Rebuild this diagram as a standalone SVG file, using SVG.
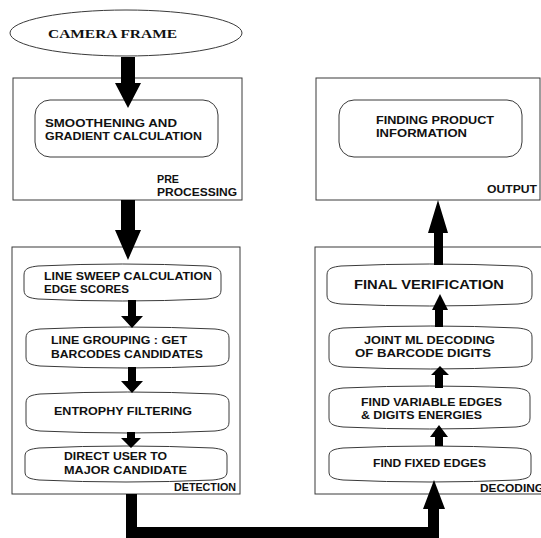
<svg xmlns="http://www.w3.org/2000/svg" width="541" height="538" viewBox="0 0 541 538">
<style>
.bg{fill:#ffffff}
.frame{fill:#ffffff;stroke:#3a3a3a;stroke-width:1}
.step{fill:#ffffff;stroke:#3a3a3a;stroke-width:1}
.arrow{fill:#000000;stroke:none}
.t{font-family:"Liberation Sans",Arial,sans-serif;font-weight:bold;font-size:11px;fill:#111111}
.big{font-size:13px}
.serif{font-family:"Liberation Serif","Times New Roman",serif;font-weight:bold;font-size:12px;fill:#111111}
</style>
<rect class="bg" x="0" y="0" width="541" height="538"/>

<g id="camera-frame">
<ellipse class="frame" cx="126" cy="33" rx="116" ry="23"/>
<text class="serif" x="48" y="38" textLength="129" lengthAdjust="spacingAndGlyphs">CAMERA FRAME</text>
</g>

<g id="pre-processing">
<rect class="frame" x="13" y="78" width="229" height="122"/>
<text class="t" x="157" y="183" textLength="22" lengthAdjust="spacingAndGlyphs">PRE</text>
<text class="t" x="157" y="196" textLength="80" lengthAdjust="spacingAndGlyphs">PROCESSING</text>
</g>
<g id="smoothening">
<rect class="step" x="35" y="100" width="183" height="57" rx="15" ry="15"/>
<text class="t" x="45" y="127" textLength="132" lengthAdjust="spacingAndGlyphs">SMOOTHENING AND</text>
<text class="t" x="45" y="140" textLength="157" lengthAdjust="spacingAndGlyphs">GRADIENT CALCULATION</text>
</g>

<g id="detection">
<rect class="frame" x="12" y="247" width="228" height="247"/>
<text class="t" x="174" y="491" textLength="62" lengthAdjust="spacingAndGlyphs">DETECTION</text>
</g>
<g id="line-sweep">
<path class="step" d="M24,275 C24,268 30,267 38,266 Q122,262 207,266 C215,267 221,268 221,275 L221,290 C221,297 215,298 207,299 Q122,303 38,299 C30,298 24,297 24,290 Z"/>
<text class="t" x="44" y="280" textLength="168" lengthAdjust="spacingAndGlyphs">LINE SWEEP CALCULATION</text>
<text class="t" x="44" y="293" textLength="85" lengthAdjust="spacingAndGlyphs">EDGE SCORES</text>
</g>
<g id="line-grouping">
<path class="step" d="M26,338 C26,331 32,330 40,329 Q128,325 215,329 C223,330 229,331 229,338 L229,357 C229,364 223,365 215,366 Q128,370 40,366 C32,365 26,364 26,357 Z"/>
<text class="t" x="51" y="344" textLength="136" lengthAdjust="spacingAndGlyphs">LINE GROUPING : GET</text>
<text class="t" x="51" y="358" textLength="152" lengthAdjust="spacingAndGlyphs">BARCODES CANDIDATES</text>
</g>
<g id="entrophy-filtering">
<path class="step" d="M26,403 C26,396 32,395 40,394 Q128,390 215,394 C223,395 229,396 229,403 L229,422 C229,429 223,430 215,431 Q128,435 40,431 C32,430 26,429 26,422 Z"/>
<text class="t" x="54" y="415" textLength="138" lengthAdjust="spacingAndGlyphs">ENTROPHY FILTERING</text>
</g>
<g id="direct-user">
<path class="step" d="M25,456 C25,450 31,449 39,448 Q126,444 213,448 C221,449 227,450 227,456 L227,472 C227,478 221,479 213,480 Q126,484 39,480 C31,479 25,478 25,472 Z"/>
<text class="t" x="64" y="460" textLength="103" lengthAdjust="spacingAndGlyphs">DIRECT USER TO</text>
<text class="t" x="64" y="474" textLength="123" lengthAdjust="spacingAndGlyphs">MAJOR CANDIDATE</text>
</g>

<g id="decoding">
<rect class="frame" x="315" y="247" width="236" height="247"/>
<text class="t" x="480" y="492" textLength="64" lengthAdjust="spacingAndGlyphs">DECODING</text>
</g>
<g id="final-verification">
<path class="step" d="M327,275 C327,268 333,267 341,266 Q430,262 518,266 C526,267 532,268 532,275 L532,295 C532,302 526,303 518,304 Q430,308 341,304 C333,303 327,302 327,295 Z"/>
<text class="t big" x="354" y="289" textLength="150" lengthAdjust="spacingAndGlyphs">FINAL VERIFICATION</text>
</g>
<g id="joint-ml-decoding">
<path class="step" d="M329,337 C329,330 335,329 343,328 Q431,324 518,328 C526,329 532,330 532,337 L532,358 C532,365 526,366 518,367 Q431,371 343,367 C335,366 329,365 329,358 Z"/>
<text class="t" x="364" y="344" textLength="131" lengthAdjust="spacingAndGlyphs">JOINT ML DECODING</text>
<text class="t" x="355" y="357" textLength="136" lengthAdjust="spacingAndGlyphs">OF BARCODE DIGITS</text>
</g>
<g id="find-variable-edges">
<path class="step" d="M329,397 C329,390 335,389 343,388 Q430,384 516,388 C524,389 530,390 530,397 L530,418 C530,425 524,426 516,427 Q430,431 343,427 C335,426 329,425 329,418 Z"/>
<text class="t" x="361" y="406" textLength="141" lengthAdjust="spacingAndGlyphs">FIND VARIABLE EDGES</text>
<text class="t" x="361" y="419" textLength="121" lengthAdjust="spacingAndGlyphs">&amp; DIGITS ENERGIES</text>
</g>
<g id="find-fixed-edges">
<path class="step" d="M329,456 C329,450 335,449 343,448 Q430,444 517,448 C525,449 531,450 531,456 L531,472 C531,478 525,479 517,480 Q430,484 343,480 C335,479 329,478 329,472 Z"/>
<text class="t" x="373" y="467" textLength="113" lengthAdjust="spacingAndGlyphs">FIND FIXED EDGES</text>
</g>

<g id="output">
<rect class="frame" x="316" y="78" width="224" height="122"/>
<text class="t" x="487" y="193" textLength="50" lengthAdjust="spacingAndGlyphs">OUTPUT</text>
</g>
<g id="finding-product">
<rect class="step" x="339" y="100" width="183" height="57" rx="15" ry="15"/>
<text class="t" x="376" y="124" textLength="118" lengthAdjust="spacingAndGlyphs">FINDING PRODUCT</text>
<text class="t" x="376" y="137" textLength="91" lengthAdjust="spacingAndGlyphs">INFORMATION</text>
</g>

<g id="connectors">
<polygon class="arrow" points="121,57 135,57 135,83 141,83 128,108 115,83 121,83"/>
<polygon class="arrow" points="121,200 135,200 135,230 141,230 128,260 115,230 121,230"/>
<polygon class="arrow" points="128,300 136,300 136,316 143,316 132,328 121,316 128,316"/>
<polygon class="arrow" points="128,367 136,367 136,381 143,381 132,393 121,381 128,381"/>
<polygon class="arrow" points="127,432 135,432 135,438 141,438 131,448 121,438 127,438"/>
<polygon class="arrow" points="126,494 137,494 137,527 428,527 428,509 423,509 434,480 445,509 439,509 439,538 126,538"/>
<polygon class="arrow" points="435,446 443,446 443,437 448,437 439,425 430,437 435,437"/>
<polygon class="arrow" points="435,388 443,388 443,375 449,375 440,366 431,375 435,375"/>
<polygon class="arrow" points="435,327 443,327 443,310 448,310 440,294 432,310 435,310"/>
<polygon class="arrow" points="434,265 443,265 443,233 448,233 438,200 428,233 434,233"/>
</g>
</svg>
